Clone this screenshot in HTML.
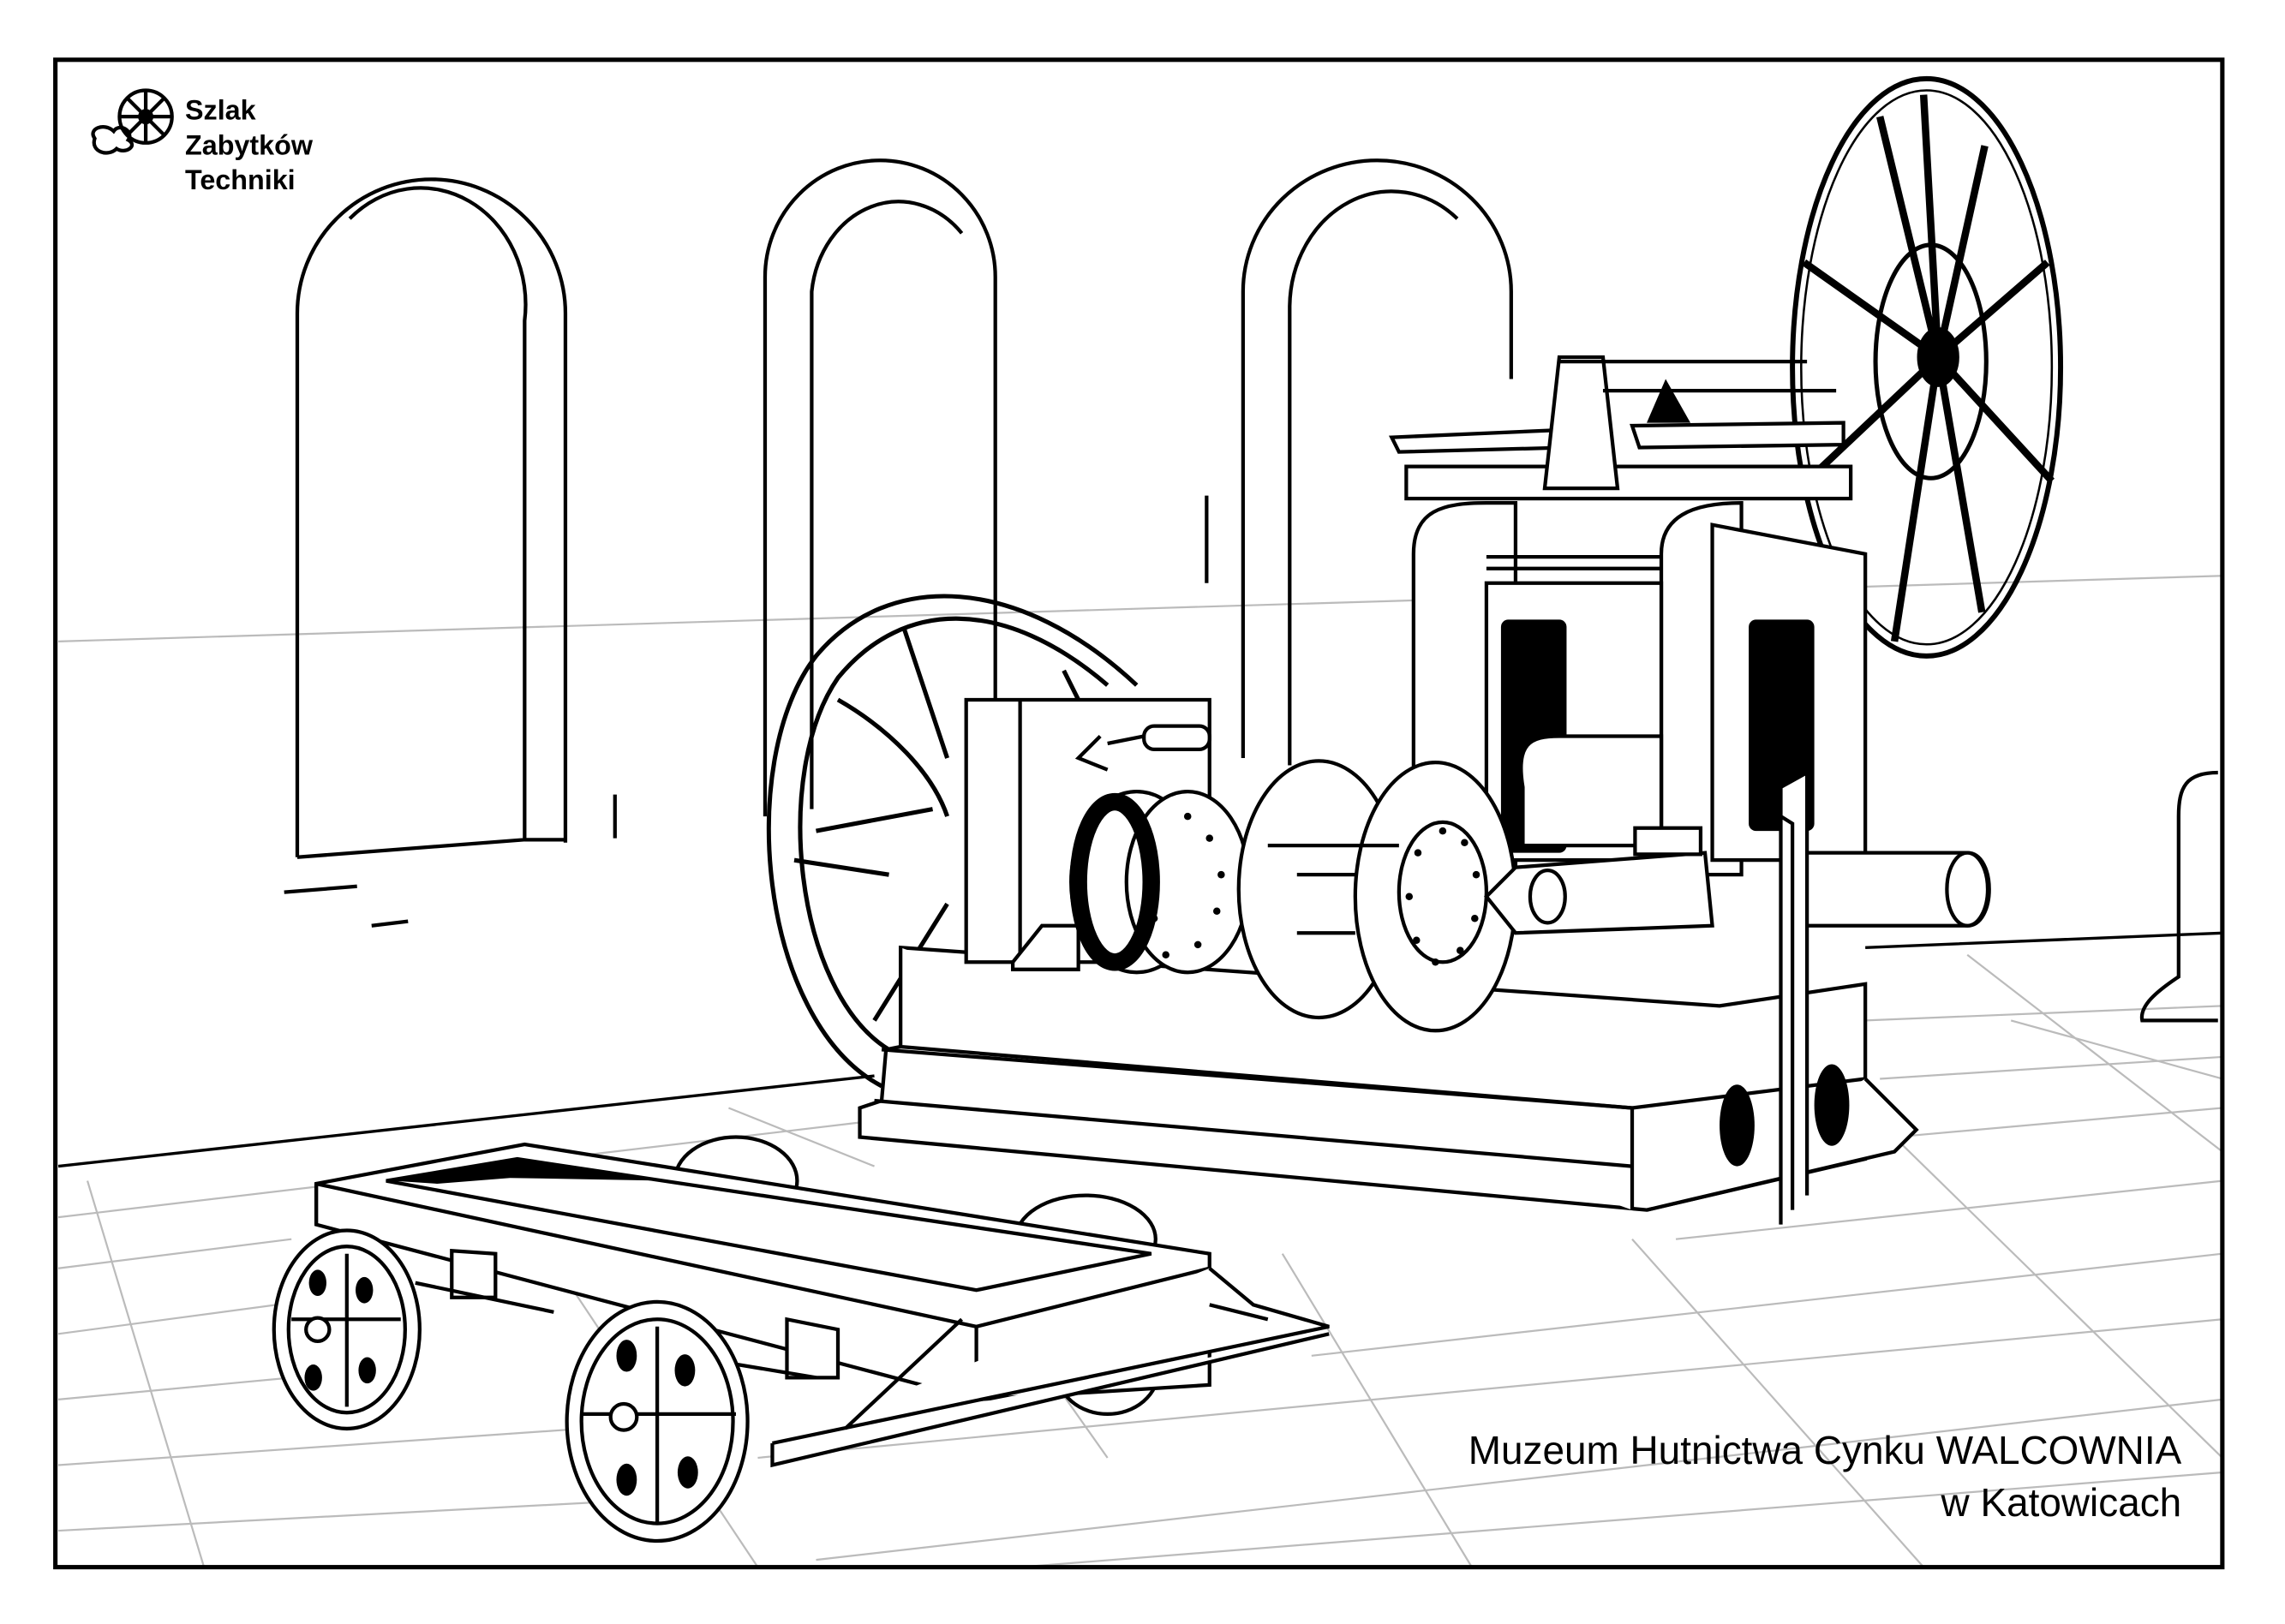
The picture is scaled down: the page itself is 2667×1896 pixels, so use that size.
<!DOCTYPE html>
<html><head><meta charset="utf-8"><style>
html,body{margin:0;padding:0;background:#fff;}
svg{display:block;}
</style></head><body>
<svg width="2667" height="1896" viewBox="0 0 1568 1114" preserveAspectRatio="none" xmlns="http://www.w3.org/2000/svg" font-family="Liberation Sans, sans-serif">
<rect x="0" y="0" width="1568" height="1114" fill="#fff"/>
<!-- floor tiles -->
<g stroke="#bbb" stroke-width="1.3" fill="none">
<path d="M40 440 L1525 395"/>
<path d="M40 835 L590 770"/><path d="M40 870 L200 850"/><path d="M40 915 L190 895"/><path d="M40 960 L200 945"/><path d="M40 1005 L400 980"/><path d="M40 1050 L420 1030"/>
<path d="M520 1000 L1525 905"/><path d="M900 930 L1525 860"/><path d="M1150 850 L1525 810"/><path d="M1300 780 L1525 760"/><path d="M1280 700 L1525 690"/><path d="M1290 740 L1525 725"/>
<path d="M560 1070 L1525 960"/><path d="M700 1075 L1525 1010"/>
<path d="M60 810 L140 1075"/><path d="M330 790 L520 1075"/><path d="M880 860 L1010 1075"/><path d="M1120 850 L1320 1075"/><path d="M1300 780 L1525 1000"/><path d="M1350 655 L1525 790"/><path d="M1380 700 L1525 740"/><path d="M640 830 L760 1000"/><path d="M500 760 L600 800"/>
</g>
<path d="M40 800 L600 738 M1280 650 L1525 640" stroke="#000" stroke-width="2" fill="none"/>
<!-- arches -->
<g stroke="#000" stroke-width="2.5" fill="none">
<path d="M204 588 V215 A92 92 0 0 1 388 215 V578"/>
<path d="M204 588 L360 576 L360 220 A72 80 0 0 0 240 150"/>
<path d="M360 576 L388 576"/>
<path d="M525 560 V190 A79 80 0 0 1 683 190 V545"/>
<path d="M557 555 V200 A60 70 0 0 1 660 160"/>
<path d="M853 520 V200 A92 90 0 0 1 1037 200 V260"/>
<path d="M885 525 V210 A70 80 0 0 1 1000 150"/>
<path d="M195 612 L245 608 M255 635 L280 632 M828 340 V400 M422 545 V575"/>
<path d="M1522 530 C1500 530 1495 540 1495 560 V670 C1480 680 1468 690 1470 700 L1522 700"/>
</g>
<!-- big right wheel -->
<g stroke="#000" fill="none">
<ellipse cx="1322" cy="252" rx="92" ry="198" stroke-width="3.5"/>
<ellipse cx="1322" cy="252" rx="86" ry="190" stroke-width="1.5"/>
<ellipse cx="1325" cy="248" rx="38" ry="80" stroke-width="3"/>
<g stroke-width="5">
<path d="M1330 245 L1320 65 M1330 245 L1362 100 M1330 245 L1405 180 M1330 245 L1238 180 M1330 245 L1290 80 M1330 245 L1240 330 M1330 245 L1300 440 M1330 245 L1360 420 M1330 245 L1408 330"/>
</g>
<ellipse cx="1330" cy="245" rx="14" ry="20" fill="#000"/>
</g>
<!-- flywheel left -->
<g stroke="#000" stroke-width="3" fill="none">
<path d="M605 745 C520 700 505 520 560 450 C610 390 700 395 780 470"/>
<path d="M610 720 C545 680 530 530 575 465 C620 410 690 410 760 470"/>
<path d="M560 570 L640 555 M575 480 C610 500 640 530 650 560 M600 700 L650 620 M620 430 L650 520 M545 590 L610 600 M730 460 L745 490"/>
</g>
<!-- machine stand -->
<g stroke="#000" stroke-width="2.5" fill="#fff">
<path d="M970 610 V380 C970 350 990 345 1020 345 H1040 V610 Z"/>
<path d="M1140 600 V380 C1140 355 1160 345 1195 345 V600 Z"/>
<path d="M1020 400 V590 H1140 V400 Z"/>
<path d="M1175 360 V590 H1280 V380 Z"/>
<rect x="965" y="320" width="305" height="22"/>
<path d="M955 300 L1070 295 L1075 307 L960 310 Z"/>
<path d="M1120 292 L1265 290 L1265 305 L1125 307 Z"/>
<path d="M1060 335 L1070 245 H1100 L1110 335 Z"/>
<path d="M1070 248 H1240"/><path d="M1100 268 H1260"/>
</g>
<path d="M1130 290 L1143 260 L1160 290 Z" fill="#000"/>
<rect x="1030" y="425" width="45" height="160" rx="5" fill="#000"/>
<rect x="1200" y="425" width="45" height="145" rx="5" fill="#000"/>
<g stroke="#000" stroke-width="2.5" fill="#fff">
<path d="M1020 382 H1140 M1020 390 H1140"/>
<path d="M1230 585 H1350 C1370 585 1370 635 1350 635 H1230 Z"/>
<ellipse cx="1350" cy="610" rx="14" ry="25"/>
<path d="M1045 540 C1040 510 1050 505 1070 505 H1140 V580 H1045 Z"/>
<!-- base -->
<path d="M618 650 L1180 690 L1280 675 L1280 795 L1130 830 L590 780 L590 760 L605 755 L608 720 L618 718 Z"/>
<path d="M618 650 L618 718 L1120 760 L1120 830"/>
<path d="M605 720 L1120 760"/><path d="M600 755 L1120 800"/>
<path d="M1120 760 L1280 740"/>
<path d="M1280 740 L1315 775 L1300 790 L1130 830"/>
</g>
<ellipse cx="1192" cy="772" rx="12" ry="28" fill="#000"/>
<ellipse cx="1257" cy="758" rx="12" ry="28" fill="#000"/>
<!-- machine gearbox and rolls -->
<g stroke="#000" stroke-width="2.5" fill="#fff">
<path d="M663 480 H830 V660 H663 Z"/>
<path d="M700 480 V660"/>
<rect x="785" y="498" width="45" height="16" rx="7"/>
<path d="M755 505 L740 520 L760 528 M760 510 L785 505"/>
<path d="M695 660 L715 635 H740 V665 H695 Z"/>
<ellipse cx="780" cy="605" rx="45" ry="62"/>
<ellipse cx="815" cy="605" rx="42" ry="62"/>
<ellipse cx="905" cy="610" rx="55" ry="88"/>
<ellipse cx="985" cy="615" rx="55" ry="92"/>
<ellipse cx="990" cy="612" rx="30" ry="48"/>
<path d="M1020 615 L1040 595 L1170 585 L1175 635 L1040 640 Z"/>
<ellipse cx="1062" cy="615" rx="12" ry="18"/>
<rect x="1122" y="568" width="45" height="18"/>
<path d="M1222 840 V540 L1240 530 V820 M1222 560 L1230 565 V830"/>
<path d="M890 600 H930 M890 640 H930 M870 580 H960"/>
</g>
<ellipse cx="765" cy="605" rx="25" ry="55" fill="none" stroke="#000" stroke-width="12"/>
<g fill="#000">
<circle cx="815" cy="560" r="2.5"/><circle cx="830" cy="575" r="2.5"/><circle cx="838" cy="600" r="2.5"/><circle cx="835" cy="625" r="2.5"/><circle cx="822" cy="648" r="2.5"/><circle cx="800" cy="655" r="2.5"/><circle cx="790" cy="580" r="2.5"/><circle cx="792" cy="630" r="2.5"/>
<circle cx="990" cy="570" r="2.5"/><circle cx="1005" cy="578" r="2.5"/><circle cx="1013" cy="600" r="2.5"/><circle cx="1012" cy="630" r="2.5"/><circle cx="1002" cy="652" r="2.5"/><circle cx="985" cy="660" r="2.5"/><circle cx="972" cy="645" r="2.5"/><circle cx="967" cy="615" r="2.5"/><circle cx="973" cy="585" r="2.5"/>
</g>
<!-- cart -->
<g stroke="#000" stroke-width="2.5" fill="#fff">
<ellipse cx="505" cy="810" rx="42" ry="30"/>
<ellipse cx="745" cy="850" rx="48" ry="30"/>
<ellipse cx="760" cy="940" rx="35" ry="30"/>
<path d="M217 812 L360 785 L830 860 L830 950 L670 960 L217 840 Z"/>
<path d="M217 812 L217 840 M217 812 L670 910 L830 870 M670 910 L670 960"/>
<path d="M265 810 L355 795 L790 860 L670 885 Z" fill="#fff"/>
<path d="M530 990 L912 910 L860 895 L830 870 M530 990 L530 1005 L912 915 M580 980 L660 905 M830 895 L870 905"/>
<path d="M310 858 L340 860 V890 H310 Z M540 905 L575 912 V945 H540 Z"/>
<path d="M285 880 L380 900 M500 935 L560 945"/>
</g>
<path d="M270 810 L355 795 L460 810 L350 808 L300 812 Z" fill="#000"/>
<g stroke="#000" stroke-width="2.5" fill="#fff">
<ellipse cx="238" cy="912" rx="50" ry="68"/><ellipse cx="238" cy="912" rx="40" ry="57"/>
<path d="M200 905 H275 M238 860 V965"/>
<ellipse cx="451" cy="975" rx="62" ry="82"/><ellipse cx="451" cy="975" rx="52" ry="70"/>
<path d="M400 970 H505 M451 910 V1045"/>
<circle cx="218" cy="912" r="8"/><circle cx="428" cy="972" r="9"/>
</g>
<g fill="#000">
<ellipse cx="218" cy="880" rx="6" ry="9"/><ellipse cx="250" cy="885" rx="6" ry="9"/><ellipse cx="215" cy="945" rx="6" ry="9"/><ellipse cx="252" cy="940" rx="6" ry="9"/>
<ellipse cx="430" cy="930" rx="7" ry="11"/><ellipse cx="470" cy="940" rx="7" ry="11"/><ellipse cx="430" cy="1015" rx="7" ry="11"/><ellipse cx="472" cy="1010" rx="7" ry="11"/>
</g>
<!-- border -->
<rect x="38" y="41" width="1487" height="1034" fill="none" stroke="#000" stroke-width="3"/>
<!-- logo -->
<g stroke="#000" stroke-width="2.5" fill="none">
<circle cx="100" cy="80" r="18"/><circle cx="100" cy="80" r="4" fill="#000"/>
<path d="M100 62 V98 M82 80 H118 M87 67 L113 93 M113 67 L87 93"/>
<path d="M65 95 C60 88 72 84 78 90 C82 84 92 90 88 96 C95 100 86 106 80 102 C74 108 62 104 65 95 Z"/>
</g>
<g font-weight="bold" font-size="19" fill="#000">
<text x="127" y="82">Szlak</text><text x="127" y="106">Zabytków</text><text x="127" y="130">Techniki</text>
</g>
<g font-size="27" fill="#000" text-anchor="end">
<text x="1497" y="1004">Muzeum Hutnictwa Cynku WALCOWNIA</text>
<text x="1497" y="1040">w Katowicach</text>
</g>
</svg>
</body></html>
